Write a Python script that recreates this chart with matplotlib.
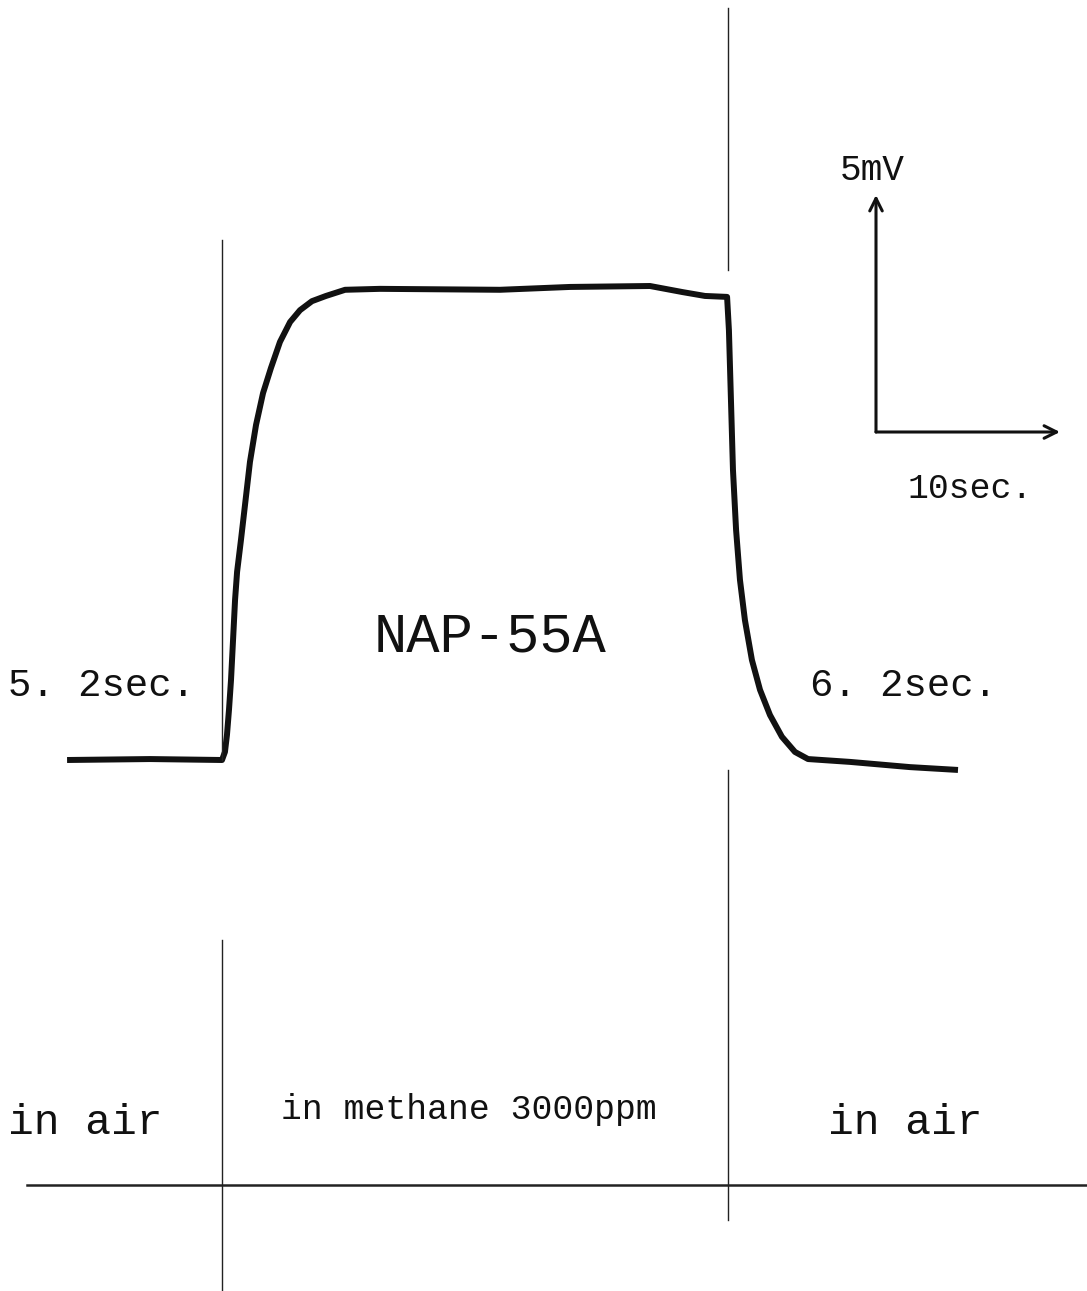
import matplotlib
matplotlib.use("Agg")
import matplotlib.pyplot as plt

# sensor response, time in s (0 = methane on), signal in mV (0 = air baseline)
time_s = [-8.42, -3.91, 0.0, 0.16, 0.27, 0.38, 0.49, 0.60, 0.71, 0.82,
          1.03, 1.25, 1.52, 1.85, 2.23, 2.66, 3.15, 3.70, 4.24, 4.89, 5.65,
          6.69, 8.59, 15.11, 18.91, 23.26, 25.05, 26.25,
          27.45, 27.55, 27.66, 27.77, 27.94, 28.15, 28.42, 28.80, 29.24,
          29.78, 30.43, 31.14, 31.85, 34.13, 37.39, 40.0]
signal_mv = [0.0, 0.02, 0.0, 0.17, 0.53, 1.06, 1.69, 2.53, 3.38, 3.97,
             4.64, 5.38, 6.29, 7.07, 7.74, 8.27, 8.82, 9.24, 9.49, 9.68, 9.79,
             9.92, 9.94, 9.92, 9.98, 10.0, 9.87, 9.79,
             9.77, 9.07, 7.60, 6.12, 4.85, 3.80, 2.95, 2.11, 1.48,
             0.95, 0.49, 0.17, 0.02, -0.04, -0.15, -0.21]

gas_on_s = 0.0
gas_off_s = 27.5
rise_label = "5. 2sec."
fall_label = "6. 2sec."
sensor_name = "NAP-55A"
phase_labels = ["in air", "in methane 3000ppm", "in air"]
scale_time_s = 10
scale_volt_mv = 5

W, H = 1087, 1291
PX_PER_S = 18.4
PX_PER_MV = 47.4
X0_PX = 222
Y0_PX = 760
FONT = "Liberation Mono"
INK = "#111111"


def to_t(px):
    return (px - X0_PX) / PX_PER_S


def to_v(py):
    return (Y0_PX - py) / PX_PER_MV


fig = plt.figure(figsize=(W / 100, H / 100), dpi=100)
ax = fig.add_axes([0, 0, 1, 1])
ax.set_xlim(to_t(0), to_t(W))
ax.set_ylim(to_v(H), to_v(0))
ax.set_axis_off()

ax.plot(time_s, signal_mv, color=INK, lw=4.3,
        solid_capstyle="butt", solid_joinstyle="round")

# gas switch markers
ax.plot([gas_on_s, gas_on_s], [to_v(240), 0.0], color="#222222", lw=1.0)
ax.plot([gas_on_s, gas_on_s], [to_v(940), to_v(H)], color="#222222", lw=1.0)
ax.plot([gas_off_s, gas_off_s], [to_v(8), to_v(270)], color="#222222", lw=1.0)
ax.plot([gas_off_s, gas_off_s], [to_v(770), to_v(1220)], color="#222222", lw=1.0)
ax.plot([to_t(27), to_t(W)], [to_v(1185), to_v(1185)], color="#222222", lw=1.8)

# scale bar
ox, oy = to_t(876), to_v(432)
arrow = dict(arrowstyle="->,head_length=0.9,head_width=0.45", color=INK,
             lw=2.2, shrinkA=0, shrinkB=0)
ax.annotate("", xy=(ox, oy + scale_volt_mv), xytext=(ox, oy), arrowprops=arrow)
ax.annotate("", xy=(ox + scale_time_s, oy), xytext=(ox, oy), arrowprops=arrow)

txt = dict(color=INK, family=FONT)
ax.text(to_t(872), to_v(170), f"{scale_volt_mv}mV", ha="center", va="center",
        fontsize=26, **txt)
ax.text(to_t(970), to_v(488), f"{scale_time_s}sec.", ha="center", va="center",
        fontsize=25, **txt)

ax.text(to_t(490), to_v(638), sensor_name, ha="center", va="center",
        fontsize=40, **txt)
ax.text(to_t(8), to_v(686), rise_label, ha="left", va="center",
        fontsize=28, **txt)
ax.text(to_t(810), to_v(686), fall_label, ha="left", va="center",
        fontsize=28, **txt)

ax.text(to_t(8), to_v(1123), phase_labels[0], ha="left", va="center",
        fontsize=31, **txt)
ax.text(to_t(281), to_v(1110), phase_labels[1], ha="left", va="center",
        fontsize=25, **txt)
ax.text(to_t(828), to_v(1123), phase_labels[2], ha="left", va="center",
        fontsize=31, **txt)

fig.savefig("out.png", dpi=100)
